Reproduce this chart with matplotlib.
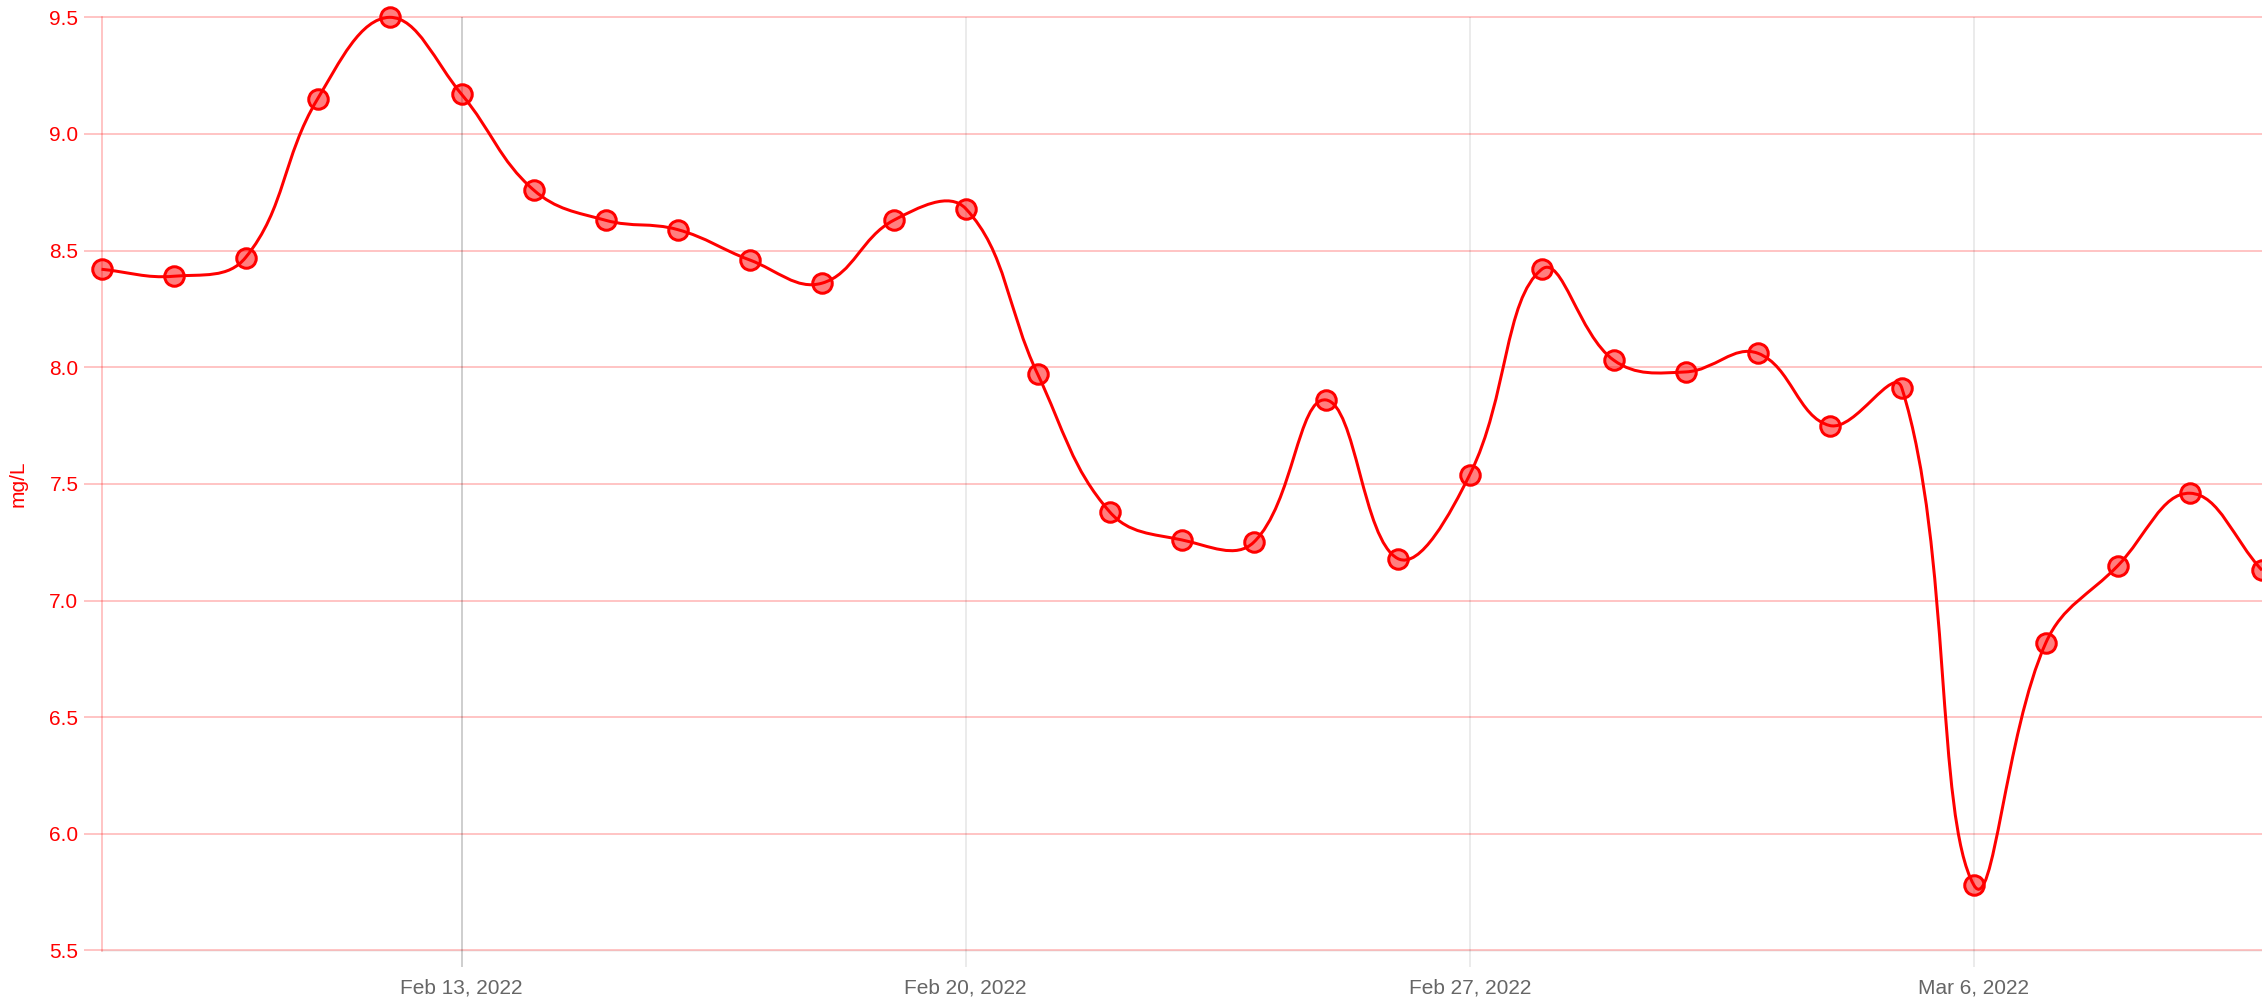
import numpy as np
import matplotlib
matplotlib.use("Agg")
import matplotlib.pyplot as plt
import matplotlib.dates as mdates
import matplotlib.transforms as mtransforms
from matplotlib.path import Path
from matplotlib.patches import PathPatch
import datetime as dt

dates = ["2022-02-08", "2022-02-09", "2022-02-10", "2022-02-11", "2022-02-12",
         "2022-02-13", "2022-02-14", "2022-02-15", "2022-02-16", "2022-02-17",
         "2022-02-18", "2022-02-19", "2022-02-20", "2022-02-21", "2022-02-22",
         "2022-02-23", "2022-02-24", "2022-02-25", "2022-02-26", "2022-02-27",
         "2022-02-28", "2022-03-01", "2022-03-02", "2022-03-03", "2022-03-04",
         "2022-03-05", "2022-03-06", "2022-03-07", "2022-03-08", "2022-03-09",
         "2022-03-10"]
values = [8.42, 8.39, 8.47, 9.15, 9.50, 9.17, 8.76, 8.63, 8.59, 8.46,
          8.36, 8.63, 8.68, 7.97, 7.38, 7.26, 7.25, 7.86, 7.18, 7.54,
          8.42, 8.03, 7.98, 8.06, 7.75, 7.91, 5.78, 6.82, 7.15, 7.46,
          7.13]
x_ticks = ["2022-02-13", "2022-02-20", "2022-02-27", "2022-03-06"]
x_tick_labels = ["Feb 13, 2022", "Feb 20, 2022", "Feb 27, 2022", "Mar 6, 2022"]
y_ticks = [5.5, 6.0, 6.5, 7.0, 7.5, 8.0, 8.5, 9.0, 9.5]
y_label = "mg/L"

plt.rcParams["font.family"] = ["Liberation Sans", "DejaVu Sans"]

W, H = 2262, 999
fig = plt.figure(figsize=(W / 100, H / 100), dpi=100)
left = 101.5 / W
bottom = (H - 950.5) / H
top = 17.3 / H
ax = fig.add_axes([left, bottom, 1 - left, 1 - top - bottom])

xd = mdates.date2num([dt.datetime.strptime(d, "%Y-%m-%d") for d in dates])
yv = np.array(values)
ax.set_xlim(xd[0], xd[-1])
ax.set_ylim(y_ticks[0], y_ticks[-1])

xt = mdates.date2num([dt.datetime.strptime(d, "%Y-%m-%d") for d in x_ticks])
ax.set_xticks(xt)
ax.set_xticklabels(x_tick_labels)
ax.set_yticks(y_ticks)
ax.set_yticklabels([f"{v:.1f}" for v in y_ticks])

PX = 72 / 100  # points per pixel
gw = 1.5 * PX
ax_w = ax.bbox.width
ax_h = ax.bbox.height
ytr = mtransforms.blended_transform_factory(ax.transAxes, ax.transData)
for v in y_ticks:
    ax.plot([-18 / ax_w, 1], [v, v], color="red", alpha=0.3, lw=gw,
            transform=ytr, clip_on=False, zorder=1, solid_capstyle="butt")
xtr = mtransforms.blended_transform_factory(ax.transData, ax.transAxes)
for i, v in enumerate(xt):
    a = 0.25 if i == 0 else 0.1
    ax.plot([v, v], [-16 / ax_h, 1], color="black", alpha=a, lw=gw,
            transform=xtr, clip_on=False, zorder=1, solid_capstyle="butt")
ax.plot([0, 0], [0, 1], color="red", alpha=0.3, lw=gw, transform=ax.transAxes,
        clip_on=False, zorder=1)
ax.plot([0, 1], [0, 0], color="black", alpha=0.06, lw=gw, transform=ax.transAxes,
        clip_on=False, zorder=1)

ax.tick_params(axis="y", length=0, pad=23 * PX, labelcolor="red", labelsize=15)
ax.tick_params(axis="x", length=0, pad=27.5 * PX, labelcolor="#666666", labelsize=15)
for s in ax.spines.values():
    s.set_visible(False)

ax.set_ylabel(y_label, color="red", fontsize=15, va="center")
ax.yaxis.set_label_coords(-(101.5 - 18) / ax_w, 0.5)

# Chart.js style bezier (tension 0.4) computed in pixel space
P = ax.transData.transform(np.column_stack([xd, yv]))
bb = ax.bbox
n = len(P)
cprev = np.zeros_like(P)
cnext = np.zeros_like(P)
t = 0.4
for i in range(n):
    prev = P[i - 1] if i > 0 else P[i]
    cur = P[i]
    nxt = P[i + 1] if i < n - 1 else P[i]
    d01 = np.hypot(*(cur - prev))
    d12 = np.hypot(*(nxt - cur))
    tot = d01 + d12
    s01 = d01 / tot if tot > 0 else 0
    s12 = d12 / tot if tot > 0 else 0
    fa, fb = t * s01, t * s12
    cprev[i] = cur - fa * (nxt - prev)
    cnext[i] = cur + fb * (nxt - prev)
for arr in (cprev, cnext):
    arr[:, 0] = np.clip(arr[:, 0], bb.x0, bb.x1)
    arr[:, 1] = np.clip(arr[:, 1], bb.y0, bb.y1)

inv = ax.transData.inverted()
verts = [P[0]]
codes = [Path.MOVETO]
for i in range(n - 1):
    verts += [cnext[i], cprev[i + 1], P[i + 1]]
    codes += [Path.CURVE4] * 3
verts = inv.transform(np.array(verts))
patch = PathPatch(Path(verts, codes), facecolor="none", edgecolor="red",
                  lw=3 * PX, zorder=3, clip_on=False)
ax.add_patch(patch)

ax.plot(xd, yv, linestyle="none", marker="o", markersize=19.5 * PX,
        markerfacecolor=(1, 0, 0, 0.5), markeredgecolor="red",
        markeredgewidth=3 * PX, zorder=4, clip_on=False)

fig.savefig("out.png", dpi=100)
